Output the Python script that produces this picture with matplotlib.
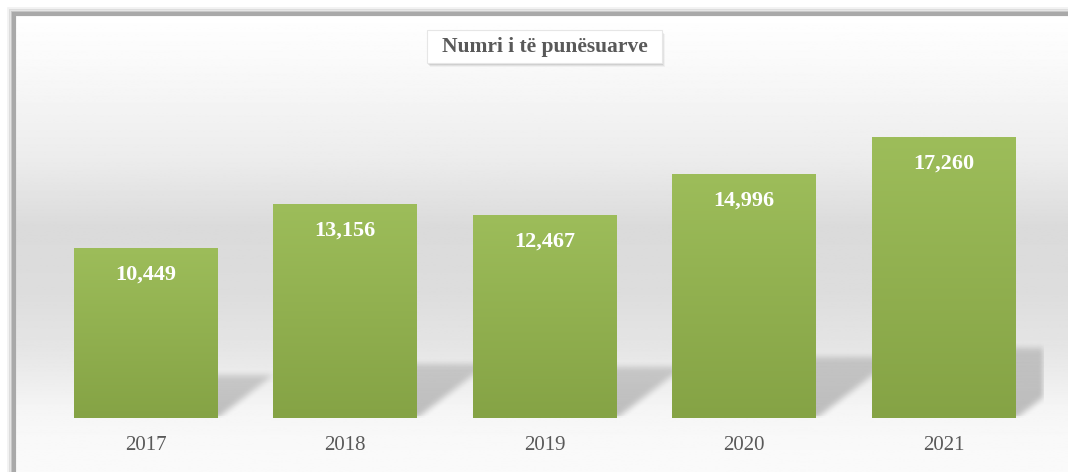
import numpy as np
import matplotlib.pyplot as plt
from matplotlib.patches import Rectangle
from matplotlib.colors import LinearSegmentedColormap

years = ["2017", "2018", "2019", "2020", "2021"]
employed = [10449, 13156, 12467, 14996, 17260]
title = "Numri i të punësuarve"

plt.rcParams['font.family'] = ['Liberation Serif', 'DejaVu Serif']


def box_blur(a, r):
    # separable box blur, applied twice for a softer edge
    k = np.ones(2 * r + 1) / (2 * r + 1)
    for _ in range(2):
        a = np.apply_along_axis(lambda v: np.convolve(v, k, mode="same"), 0, a)
        a = np.apply_along_axis(lambda v: np.convolve(v, k, mode="same"), 1, a)
    return a


W, H = 1068, 472
fig = plt.figure(figsize=(W / 100, H / 100), dpi=100)
fig.patch.set_facecolor("white")

# background: frame with soft gray band
bg = fig.add_axes([0, 0, 1, 1])
bg.set_xlim(0, W)
bg.set_ylim(H, 0)
bg.axis("off")
ys = np.linspace(14, H, 400)
prof = np.interp(ys, [14, 60, 160, 227, 293, 350, 380, 410, 440, 472],
                 [1.0, 0.98, 0.925, 0.857, 0.866, 0.9, 0.93, 0.962, 0.975, 0.98])
grad = np.repeat(prof[:, None], 2, axis=1)
bg.imshow(grad, cmap="gray", vmin=0, vmax=1, extent=[14, W, H, 14],
          aspect="auto", zorder=0)
# frame border (left + top) with soft shadow
for off, a in [(5, 0.05), (3, 0.1), (1.5, 0.15)]:
    bg.plot([13 - off, 13 - off, W], [H, 13 - off, 13 - off],
            color="black", alpha=a, lw=2, zorder=1, solid_joinstyle="miter")
bg.plot([14, 14, W], [H, 14, 14], color="#a9a9a9", lw=3,
        zorder=2, solid_joinstyle="miter")

# title box
for off, a in [(5, 0.04), (3.5, 0.06), (2, 0.08)]:
    bg.add_patch(Rectangle((427 + off * 0.6, 30 + off * 0.8), 235, 33,
                           color="black", alpha=a, lw=0, zorder=3))
bg.add_patch(Rectangle((427, 30), 235, 33, facecolor="white",
                       edgecolor="#e6e6e6", lw=0.8, zorder=4))
bg.text(544.5, 47, title, ha="center", va="center", fontsize=15.5,
        fontweight="bold", color="#595959", zorder=5)

# plot area
ax_l, ax_r = 45.75, 1043.25
ax_b, ax_t = 418, 100
ax = fig.add_axes([ax_l / W, 1 - ax_b / H, (ax_r - ax_l) / W, (ax_b - ax_t) / H])
ax.patch.set_alpha(0)
x = np.arange(len(years))
ymax = max(employed) * (ax_b - ax_t) / (418 - 137)
for s in ax.spines.values():
    s.set_visible(False)
ax.set_yticks([])
ax.set_xticks(x)
ax.set_xticklabels(years, fontsize=15, color="#595959")
ax.tick_params(axis="x", length=0, pad=13)

bw = 0.717
px_per_x = (ax_r - ax_l) / len(years)
px_per_y = (ax_b - ax_t) / ymax

# blurred skewed shadows behind the bars, built in pixel space
nx, ny = int(ax_r - ax_l), int(ax_b - ax_t)
pxs = np.arange(nx)[None, :] + 0.5
pys = np.arange(ny)[:, None] + 0.5          # measured up from bar base
mask = np.zeros((ny, nx))
for xi, v in zip(x, employed):
    xl = (xi + 0.5 - bw / 2) * px_per_x
    xr = (xi + 0.5 + bw / 2) * px_per_x
    sh = 0.25 * v * px_per_y
    inside = (pys <= sh) & (pxs >= xl + 1.3 * pys) & (pxs <= xr + 1.3 * pys)
    mask = np.maximum(mask, inside * (1 - 0.35 * pys / sh))
mask = box_blur(mask, 3)
mask[:2, :] *= 0.5
shadow = np.zeros((ny, nx, 4))
shadow[..., 3] = 0.24 * mask
ax.imshow(shadow, origin="lower", aspect="auto",
          extent=[-0.5, len(years) - 0.5, 0, ny / px_per_y], zorder=1)

green = LinearSegmentedColormap.from_list("g", ["#85a345", "#9dbd5a"])
vals = np.linspace(0, 1, 256)[:, None]
for xi, v in zip(x, employed):
    bar = ax.bar(xi, v, width=bw, color="none", zorder=2)[0]
    im = ax.imshow(vals, cmap=green, origin="lower", aspect="auto",
                   extent=[xi - bw / 2, xi + bw / 2, 0, v], zorder=2)
    im.set_clip_path(bar)
    ax.text(xi, v - 27 / px_per_y, f"{v:,}", ha="center", va="center",
            fontsize=16, fontweight="bold", color="white", zorder=3)

ax.set_xlim(-0.5, len(years) - 0.5)
ax.set_ylim(0, ymax)

fig.savefig("out.png", dpi=100)
